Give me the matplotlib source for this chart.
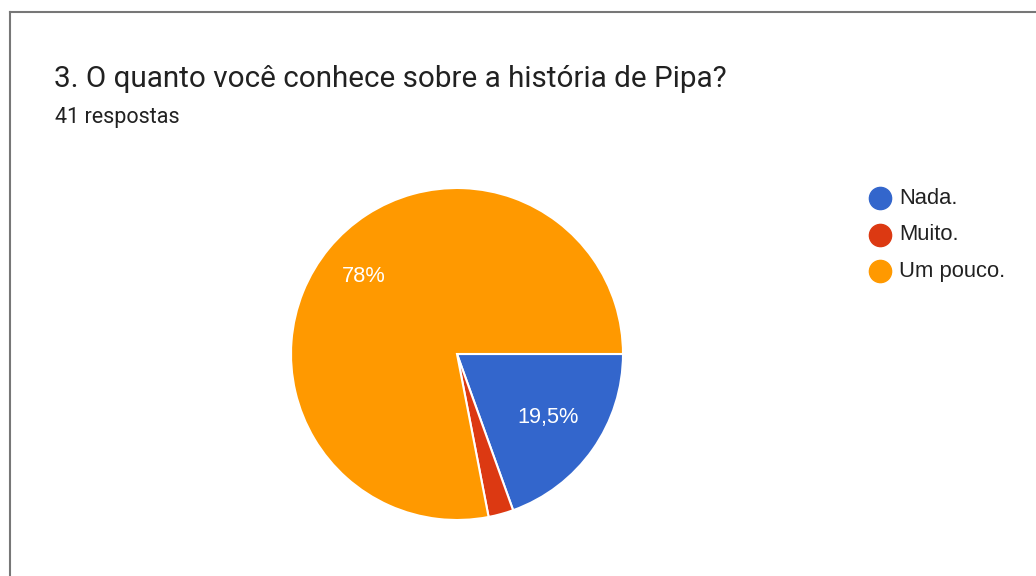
import numpy as np
import matplotlib.pyplot as plt
from matplotlib.lines import Line2D

# Dados do gráfico (41 respostas)
categorias = ['Nada.', 'Muito.', 'Um pouco.']
respostas = [8, 1, 32]
rotulos = ['19,5%', '', '78%']
cores = ['#3366cc', '#dc3912', '#ff9900']

plt.rcParams['font.family'] = ['Roboto', 'DejaVu Sans']

fig = plt.figure(figsize=(10.36, 5.76), dpi=100)

# Moldura cinza (esquerda e topo)
fig.add_artist(Line2D([10 / 1036, 10 / 1036], [0, 1 - 12 / 576], color='#777777', lw=1.5))
fig.add_artist(Line2D([10 / 1036, 1], [1 - 12 / 576, 1 - 12 / 576], color='#777777', lw=1.5))

fig.text(54 / 1036, 1 - 79 / 576, '3. O quanto você conhece sobre a história de Pipa?',
         fontsize=21.3, color='#212121', va='center')
fig.text(55 / 1036, 1 - 117 / 576, '41 respostas', fontsize=15.5, color='#212121', va='center')

cx, cy, r = 457 / 1036, 1 - 354 / 576, 166
ax = fig.add_axes([cx - r / 1036, cy - r / 576, 2 * r / 1036, 2 * r / 576])
wedges, _ = ax.pie(respostas, colors=cores, startangle=0, counterclock=False,
                   wedgeprops=dict(edgecolor='white', linewidth=1.5))
ax.set_xlim(-1, 1)
ax.set_ylim(-1, 1)
ax.set_aspect('equal')

total = sum(respostas)
inicio = 0.0
distancias = [0.67, 0.7, 0.73]
for v, txt, d in zip(respostas, rotulos, distancias):
    meio = np.deg2rad(inicio - 180 * v / total)
    inicio -= 360 * v / total
    if txt:
        ax.text(d * np.cos(meio), d * np.sin(meio), txt, color='white',
                fontsize=15.7, family='Liberation Sans', ha='center', va='center')

for i, (cat, cor) in enumerate(zip(categorias, cores)):
    y = 1 - (198 + 36.5 * i) / 576
    fig.add_artist(Line2D([880 / 1036], [y], marker='o', markersize=16,
                          color=cor, linestyle='none'))
    fig.text(899 / 1036, y, cat, fontsize=15.8, family='Liberation Sans',
             color='#212121', va='center')

fig.savefig('out.png', dpi=100, facecolor='white')
